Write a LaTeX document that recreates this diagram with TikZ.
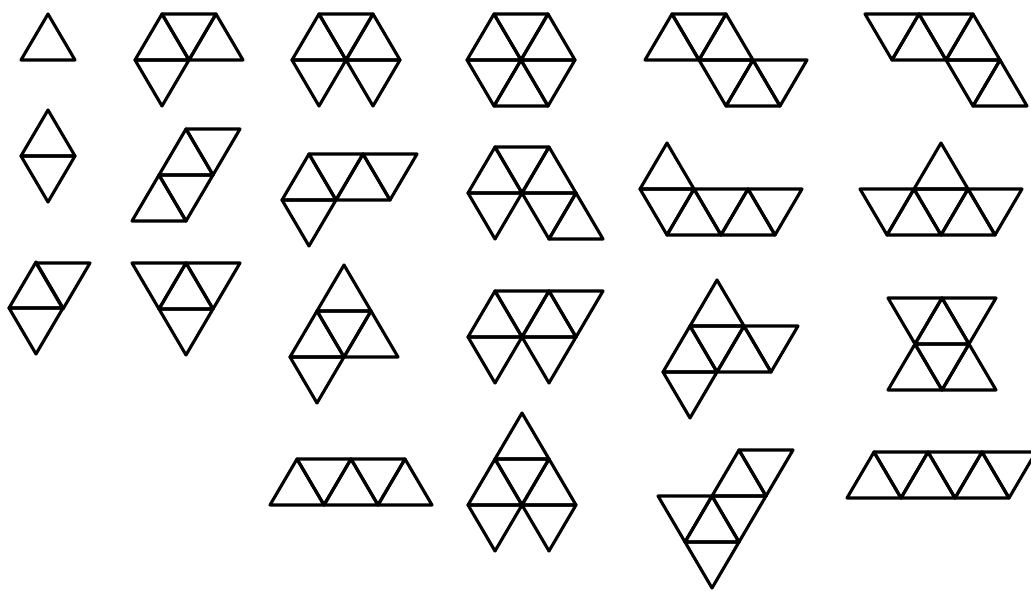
\documentclass[tikz,border=0pt]{standalone}
\usepackage{tikz}
% one cell of the triangle grid: corner given in pixels
\newcommand{\upt}[2]{\draw[tri] (#1,#2) -- ++(54,0) -- ++(-27,-46) -- cycle;}
\newcommand{\dnt}[2]{\draw[tri] (#1,#2) -- ++(54,0) -- ++(-27,46) -- cycle;}

\begin{document}
\begin{tikzpicture}[
  x=1pt,y=-1pt,
  tri/.style={draw=black,line width=3.1pt,line join=round}
]
\useasboundingbox (0,0) rectangle (1031,591);
\clip (0,0) rectangle (1031,591);
% column 1: mono, di, tri
\upt{21}{60}
\upt{21}{156} \dnt{21}{156}
\upt{9}{308} \dnt{36}{263} \dnt{9}{308}
% column 2: tetriamonds
\upt{135}{60} \dnt{162}{14} \upt{189}{60} \dnt{135}{60}
\dnt{186}{129} \upt{159}{175} \dnt{159}{175} \upt{132}{221}
\dnt{132}{263} \upt{159}{309} \dnt{186}{263} \dnt{159}{309}
% column 3: pentiamonds
\upt{292}{60} \dnt{319}{14} \upt{346}{60} \dnt{292}{60} \dnt{346}{60}
\upt{282}{200} \dnt{309}{154} \upt{336}{200} \dnt{363}{154} \dnt{282}{200}
\upt{317}{311} \dnt{317}{311} \upt{290}{357} \upt{344}{357} \dnt{290}{357}
\foreach \i in {0,1,2} {\upt{270+54*\i}{505}}
\foreach \i in {0,1} {\dnt{297+54*\i}{459}}
% column 4: hexiamonds
\upt{467}{60} \dnt{494}{14} \upt{521}{60} \dnt{467}{60} \upt{494}{106} \dnt{521}{60}
\upt{468}{193} \dnt{495}{147} \upt{522}{193} \dnt{468}{193} \dnt{522}{193} \upt{549}{239}
\upt{468}{337} \dnt{495}{291} \upt{522}{337} \dnt{549}{291} \dnt{468}{337} \dnt{522}{337}
\upt{495}{459} \dnt{495}{459} \upt{468}{505} \upt{522}{505} \dnt{468}{505} \dnt{522}{505}
% column 5
\upt{645}{60} \dnt{672}{14} \upt{699}{60} \dnt{699}{60} \upt{726}{106} \dnt{753}{60}
\upt{640}{189} \dnt{640}{189} \upt{667}{235} \dnt{694}{189} \upt{721}{235} \dnt{748}{189}
\upt{690}{326} \upt{663}{372} \dnt{690}{326} \upt{717}{372} \dnt{744}{326} \dnt{663}{372}
\upt{712}{496} \dnt{739}{450} \dnt{658}{496} \upt{685}{542} \dnt{712}{496} \dnt{685}{542}
% column 6
\dnt{865}{14} \upt{892}{60} \dnt{919}{14} \upt{946}{60} \dnt{946}{60} \upt{973}{106}
\upt{914}{189} \dnt{860}{189} \upt{887}{235} \dnt{914}{189} \upt{941}{235} \dnt{968}{189}
\dnt{888}{298} \dnt{942}{298} \upt{915}{344} \dnt{915}{344} \upt{888}{390} \upt{942}{390}
\foreach \i in {0,1,2} {\upt{847+54*\i}{498} \dnt{874+54*\i}{452}}
\end{tikzpicture}
\end{document}
